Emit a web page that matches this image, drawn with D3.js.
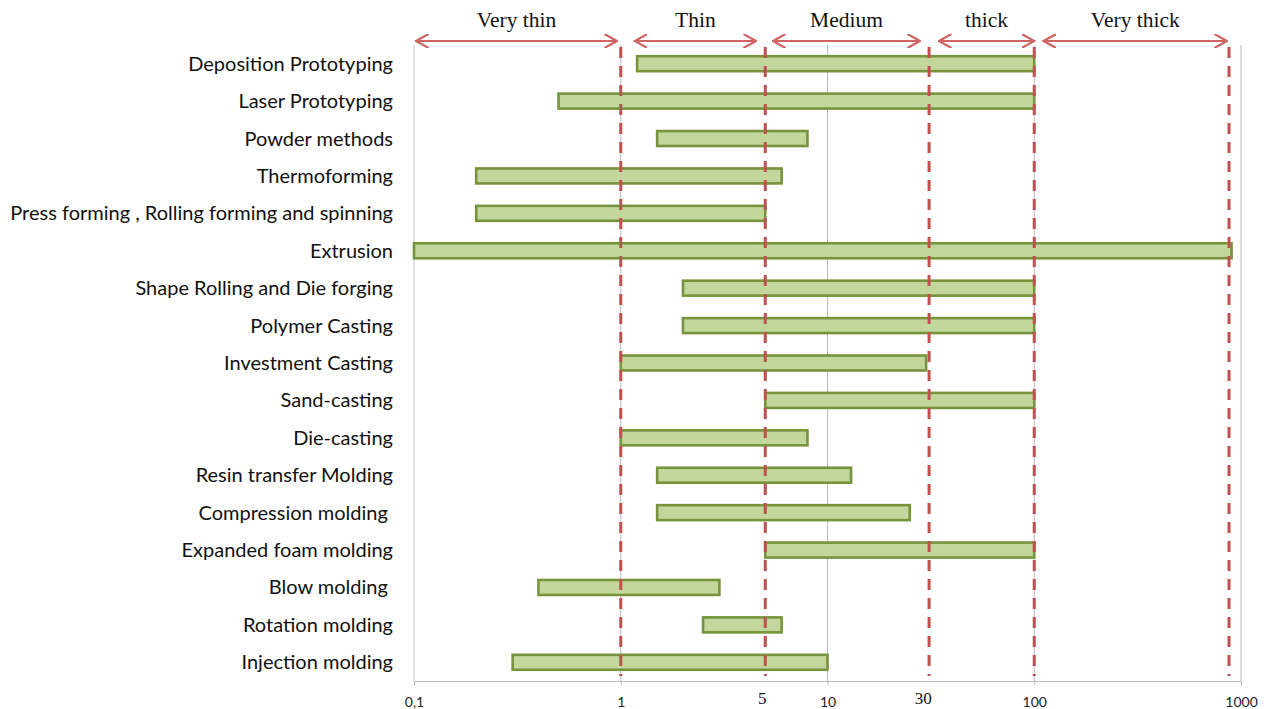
<!DOCTYPE html>
<html><head><meta charset="utf-8">
<script src="https://cdn.jsdelivr.net/npm/d3@7"></script>
<style>body{margin:0;background:#fff}svg{display:block}</style>
</head><body>
<svg id="c" width="1271" height="709"></svg>
<script>
const categories = ["Deposition Prototyping","Laser Prototyping","Powder methods","Thermoforming","Press forming , Rolling forming and spinning","Extrusion","Shape Rolling and Die forging","Polymer Casting","Investment Casting","Sand-casting","Die-casting","Resin transfer Molding","Compression molding ","Expanded foam molding","Blow molding ","Rotation molding","Injection molding"];
const minThickness = [1.2,0.5,1.5,0.2,0.2,0.1,2,2,1,5,1,1.5,1.5,5,0.4,2.5,0.3];
const maxThickness = [100,100,8,6,5,900,100,100,30,100,8,13,25,100,3,6,10];
const axisTicks = [0.1,1,10,100,1000];
const axisTickLabels = ["0,1","1","10","100","1000"];
const boundaryValues = [1,5,31,100,875];
const boundaryLabels = ["5","30"];
const boundaryLabelValues = [5,30];
const classNames = ["Very thin","Thin","Medium","thick","Very thick"];
const classArrowFrom = [0.1023,1.17,5.45,34.6,111];
const classArrowTo = [0.959,4.51,28,100,855];

const svg = d3.select("#c");
const pLeft = 414, pRight = 1241, pTop = 45, pBottom = 681;
const x = d3.scaleLog().domain([0.1,1000]).range([pLeft,pRight]);
const y = d3.scaleBand().domain(categories).range([pTop,pBottom]).paddingInner(0.6).paddingOuter(0.3);
const sans = "Lato, 'Open Sans', sans-serif";

// grid
svg.append("g").selectAll("line").data(axisTicks).join("line")
  .attr("x1",d=>x(d)).attr("x2",d=>x(d)).attr("y1",pTop).attr("y2",pBottom)
  .attr("stroke",d=>d===0.1?"#c8c8c8":"#b8b8b8").attr("stroke-width",1);

// x axis
const ax = svg.append("g").attr("transform",`translate(0,${pBottom})`)
  .call(d3.axisBottom(x).tickValues(axisTicks).tickFormat((d,i)=>axisTickLabels[i]).tickSize(4).tickPadding(12));
ax.select(".domain").attr("stroke","#b8b8b8");
ax.selectAll(".tick line").attr("stroke","#b8b8b8");
ax.selectAll("text").attr("font-family",sans).attr("font-size",14).attr("fill","#222");

svg.append("g").selectAll("text").data(boundaryLabelValues).join("text")
  .attr("x",d=>x(d)-3).attr("y",704).attr("text-anchor","middle")
  .attr("font-family","Liberation Serif, Times New Roman, serif").attr("font-size",17).attr("fill","#111")
  .text((d,i)=>boundaryLabels[i]);

// bars
svg.append("g").selectAll("rect").data(categories).join("rect")
  .attr("x",(d,i)=>x(minThickness[i])).attr("y",d=>y(d))
  .attr("width",(d,i)=>x(maxThickness[i])-x(minThickness[i])).attr("height",y.bandwidth())
  .attr("fill","#c3d69b").attr("stroke","#77933c").attr("stroke-width",2.6);

// category labels
const labs = svg.append("g").selectAll("text").data(categories).join("text")
  .attr("x",393).attr("y",d=>y(d)+y.bandwidth()/2).attr("dy","0.35em")
  .attr("text-anchor","end").style("white-space","pre")
  .attr("font-family",sans).attr("font-size",20).attr("fill","#111")
  .text(d=>d);
let maxW = 0; labs.each(function(){ maxW = Math.max(maxW, this.getComputedTextLength()); });
labs.attr("font-size", Math.min(20.5, 20*383/maxW));

// dashed boundaries
svg.append("g").selectAll("line").data(boundaryValues).join("line")
  .attr("x1",d=>x(d)).attr("x2",d=>x(d)).attr("y1",47).attr("y2",676)
  .attr("stroke","#c0504d").attr("stroke-width",3).attr("stroke-dasharray","11,8");

// arrows
const defs = svg.append("defs");
defs.append("marker").attr("id","ah").attr("viewBox","0 0 10 10").attr("refX",9).attr("refY",5)
  .attr("markerWidth",14).attr("markerHeight",14).attr("markerUnits","userSpaceOnUse").attr("orient","auto-start-reverse")
  .append("path").attr("d","M0,0 L9,5 L0,10").attr("fill","none").attr("stroke","#d06464").attr("stroke-width",1.6);
svg.append("g").selectAll("line").data(classNames).join("line")
  .attr("x1",(d,i)=>x(classArrowFrom[i])).attr("x2",(d,i)=>x(classArrowTo[i])).attr("y1",41).attr("y2",41)
  .attr("stroke","#d06464").attr("stroke-width",1.8)
  .attr("marker-start","url(#ah)").attr("marker-end","url(#ah)");
svg.append("g").selectAll("text").data(classNames).join("text")
  .attr("x",(d,i)=>(x(classArrowFrom[i])+x(classArrowTo[i]))/2).attr("y",27).attr("text-anchor","middle")
  .attr("font-family","Liberation Serif, Times New Roman, serif").attr("font-size",21.5).attr("fill","#111")
  .text(d=>d);
</script>
</body></html>
